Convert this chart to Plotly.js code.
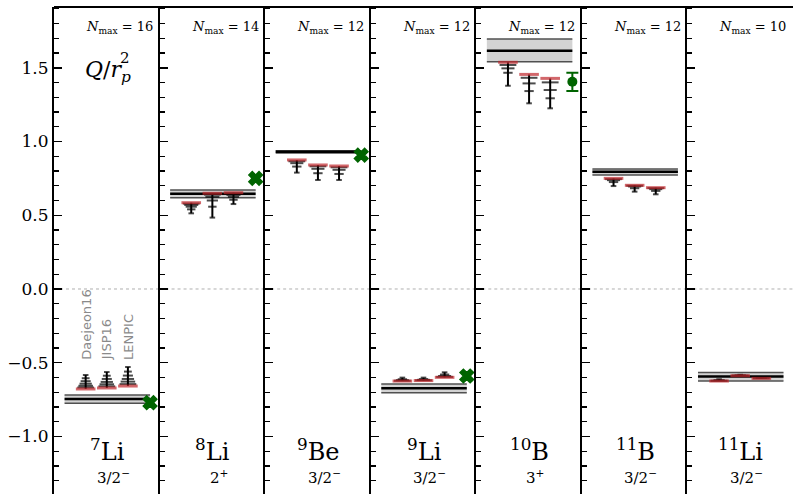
<!DOCTYPE html>
<html>
<head>
<meta charset="utf-8">
<script src="https://cdn.plot.ly/plotly-3.0.1.min.js"></script>
<style>html,body{margin:0;padding:0;background:#fff;}#chart{width:793px;height:494px;}</style>
</head>
<body>
<div id="chart"></div>
<script>
// ---------- data ----------
const nuclei = ['7Li', '8Li', '9Be', '9Li', '10B', '11B', '11Li'];
const massNumbers = ['7', '8', '9', '9', '10', '11', '11'];
const elements = ['Li', 'Li', 'Be', 'Li', 'B', 'B', 'Li'];
const spins = ['3/2<sup>−</sup>', '2<sup>+</sup>', '3/2<sup>−</sup>', '3/2<sup>−</sup>', '3<sup>+</sup>', '3/2<sup>−</sup>', '3/2<sup>−</sup>'];
const nmaxValues = [16, 14, 12, 12, 12, 12, 10];

const bandHigh   = [-0.719, 0.671, 0.938, -0.644, 1.695, 0.814, -0.567];
const bandCenter = [-0.746, 0.645, 0.930, -0.673, 1.616, 0.795, -0.594];
const bandLow    = [-0.775, 0.619, 0.922, -0.703, 1.541, 0.773, -0.624];

const expValue = [-0.771, 0.750, 0.908, -0.590, 1.405, null, null];
const expError = [0, 0, 0, 0, 0.062, null, null];

const calcNames = ['Daejeon16', 'JISP16', 'LENPIC'];
// values for increasing Nmax; last value = highest Nmax
const daejeon16 = [
  [-0.583, -0.605, -0.625, -0.642, -0.656, -0.668, -0.678],
  [0.513, 0.540, 0.558, 0.570, 0.579, 0.585],
  [0.789, 0.830, 0.853, 0.866, 0.875],
  [-0.601, -0.612, -0.618, -0.622, -0.624],
  [1.378, 1.466, 1.496, 1.519, 1.537],
  [0.698, 0.725, 0.738, 0.745, 0.750],
  [-0.612, -0.618, -0.622, -0.624]
];
const jisp16 = [
  [-0.563, -0.588, -0.610, -0.630, -0.646, -0.660, -0.671],
  [0.484, 0.558, 0.600, 0.625, 0.640, 0.649],
  [0.739, 0.785, 0.815, 0.832, 0.841],
  [-0.601, -0.611, -0.616, -0.619, -0.621],
  [1.259, 1.342, 1.394, 1.432, 1.455],
  [0.660, 0.683, 0.695, 0.700, 0.703],
  [-0.582, -0.585, -0.587, -0.588]
];
const lenpic = [
  [-0.529, -0.560, -0.587, -0.610, -0.628, -0.645, -0.658],
  [0.576, 0.605, 0.625, 0.638, 0.647, 0.653],
  [0.739, 0.780, 0.808, 0.825, 0.834],
  [-0.565, -0.580, -0.590, -0.596, -0.599],
  [1.225, 1.293, 1.349, 1.401, 1.428],
  [0.642, 0.665, 0.677, 0.684, 0.687],
  [-0.598, -0.602, -0.605, -0.606]
];
const calcSets = [daejeon16, jisp16, lenpic];

const yTickVals = [-1.0, -0.5, 0.0, 0.5, 1.0, 1.5];
const yTickText = ['−1.0', '−0.5', '0.0', '0.5', '1.0', '1.5'];

// ---------- styling / layout ----------
const YR = [-1.39, 1.912];
const calcPos = [0.30, 0.50, 0.70];
const expPos = 0.91;
const bandX = [0.10, 0.91];
const serif = 'DejaVu Serif';
const nP = nuclei.length;

const traces = [];
const layout = {
  width: 793, height: 494,
  margin: {l: 54, r: 0, t: 7, b: 0, pad: 0},
  paper_bgcolor: '#fff', plot_bgcolor: '#fff',
  showlegend: false,
  font: {family: serif, color: '#000'},
  annotations: [],
  shapes: []
};

for (let k = 0; k < nP; k++) {
  const xa = k === 0 ? 'x' : 'x' + (k + 1);
  const ya = k === 0 ? 'y' : 'y' + (k + 1);
  const xk = k === 0 ? 'xaxis' : 'xaxis' + (k + 1);
  const yk = k === 0 ? 'yaxis' : 'yaxis' + (k + 1);
  layout[xk] = {domain: [k / nP, (k + 1) / nP], range: [0, 1], anchor: ya,
    showline: false, showgrid: false, zeroline: false, showticklabels: false, ticks: '', fixedrange: true};
  layout[yk] = {range: YR, anchor: xa, showline: true, linewidth: 2, linecolor: '#000',
    showgrid: false, zeroline: false, ticks: 'inside', ticklen: 8, tickwidth: 1.5, tickcolor: '#000',
    tickvals: yTickVals, ticktext: yTickText, showticklabels: k === 0,
    tickfont: {family: serif, size: 17, color: '#000'},
    minor: {dtick: 0.1, tick0: 0, ticks: 'inside', ticklen: 5, tickwidth: 1.2, tickcolor: '#000'},
    fixedrange: true};

  // zero line
  traces.push({x: [0, 1], y: [0, 0], xaxis: xa, yaxis: ya, mode: 'lines',
    line: {color: '#b0b0b0', width: 1, dash: 'dot'}, hoverinfo: 'skip'});

  // band
  traces.push({x: bandX, y: [bandLow[k], bandLow[k]], xaxis: xa, yaxis: ya, mode: 'lines',
    line: {color: '#505050', width: 1.5}, hoverinfo: 'skip'});
  traces.push({x: bandX, y: [bandHigh[k], bandHigh[k]], xaxis: xa, yaxis: ya, mode: 'lines',
    fill: 'tonexty', fillcolor: '#d3d3d3', line: {color: '#505050', width: 1.5}, hoverinfo: 'skip'});
  traces.push({x: bandX, y: [bandCenter[k], bandCenter[k]], xaxis: xa, yaxis: ya, mode: 'lines',
    line: {color: '#000', width: 2.5}, hoverinfo: 'skip'});

  // calculations
  calcSets.forEach((set, j) => {
    const vals = set[k];
    const n = vals.length;
    const sizes = vals.map((v, i) => i === n - 1 ? 14 : 4 + 8 * i / Math.max(1, n - 2));
    const cols = vals.map((v, i) => i === n - 1 ? '#c0282d' : '#000');
    const lw = vals.map((v, i) => i === n - 1 ? 3 : 2);
    traces.push({x: vals.map(() => calcPos[j]), y: vals, xaxis: xa, yaxis: ya,
      name: calcNames[j], mode: 'lines+markers',
      line: {color: '#000', width: 2},
      marker: {symbol: 'line-ew', size: sizes, color: cols, line: {color: cols, width: lw}}});
  });

  // experiment
  if (expValue[k] !== null) {
    const withErr = expError[k] > 0;
    traces.push({x: [expPos], y: [expValue[k]], xaxis: xa, yaxis: ya, mode: 'markers',
      marker: {symbol: withErr ? 'circle' : 'x', size: withErr ? 10 : 12, color: '#006400',
        line: {width: withErr ? 0 : 1.5, color: '#006400'}},
      error_y: withErr ? {type: 'data', array: [expError[k]], visible: true, color: '#006400', thickness: 2, width: 6} : {visible: false}});
  }

  // Nmax label
  layout.annotations.push({xref: xa, yref: 'paper', x: 0.62, y: 0.958, xanchor: 'center', yanchor: 'middle',
    showarrow: false, text: '<i>N</i><sub>max</sub> = ' + nmaxValues[k],
    font: {family: serif, size: 13, color: '#000'}});
  // nucleus label
  layout.annotations.push({xref: xa, yref: 'paper', x: 0.505, y: 0.09, xanchor: 'center', yanchor: 'middle',
    showarrow: false, text: '<sup>' + massNumbers[k] + '</sup>' + elements[k],
    font: {family: serif, size: 24, color: '#000'}});
  // spin label
  layout.annotations.push({xref: xa, yref: 'paper', x: 0.56, y: 0.035, xanchor: 'center', yanchor: 'middle',
    showarrow: false, text: spins[k], font: {family: serif, size: 15, color: '#000'}});
}

// calculation name labels in first panel
calcNames.forEach((nm, j) => {
  layout.annotations.push({xref: 'x', yref: 'y', x: calcPos[j], y: -0.495, xanchor: 'center', yanchor: 'bottom',
    textangle: -90, showarrow: false, text: nm,
    font: {family: 'DejaVu Sans', size: 13, color: '#8a8a8a'}});
});

// Q/r_p^2 label
layout.annotations.push({xref: 'x', yref: 'paper', x: 0.27, y: 0.868, xanchor: 'left', yanchor: 'middle',
  showarrow: false, text: '<i>Q</i>/<i>r</i><sub><i>p</i></sub>', font: {family: serif, size: 22, color: '#000'}});
layout.annotations.push({xref: 'x', yref: 'paper', x: 0.61, y: 0.895, xanchor: 'left', yanchor: 'middle',
  showarrow: false, text: '2', font: {family: serif, size: 15, color: '#000'}});

// top frame
layout.shapes.push({type: 'line', xref: 'paper', yref: 'paper', x0: 0, x1: 1, y0: 1, y1: 1,
  line: {color: '#000', width: 2}});

Plotly.newPlot('chart', traces, layout, {displayModeBar: false, staticPlot: true});
</script>
</body>
</html>
